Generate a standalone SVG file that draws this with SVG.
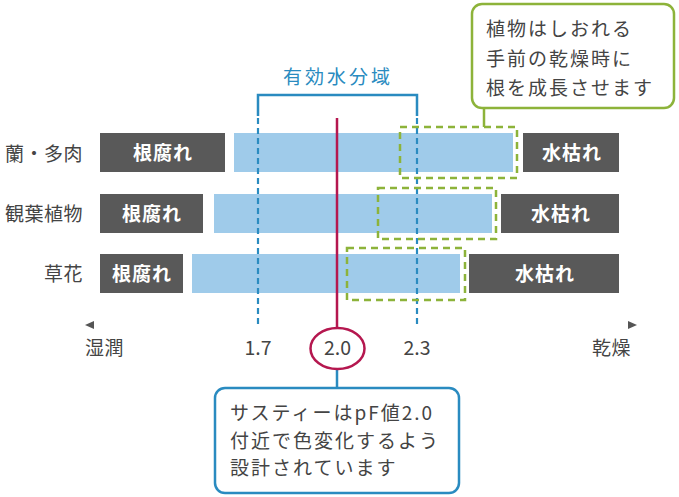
<svg xmlns="http://www.w3.org/2000/svg" width="679" height="497" viewBox="0 0 679 497">
<style>
text{font-family:"Noto Sans CJK JP","Noto Sans",sans-serif;}
.lbl{font-size:19px;fill:#444;letter-spacing:0.5px;}
.dark{fill:#595959;}
.wt{font-size:19px;font-weight:bold;fill:#fff;text-anchor:middle;letter-spacing:1px;}
.bar{fill:#9fcbea;}
.grn{fill:none;stroke:#8db33a;stroke-width:2.5;stroke-dasharray:7 5;}
.bld{stroke:#2a8bc0;stroke-width:2.2;stroke-dasharray:6 4;fill:none;}
.num{font-size:19.5px;fill:#444;text-anchor:middle;}
.ct{font-size:19px;fill:#444;letter-spacing:2px;}
</style>
<rect width="679" height="497" fill="#fff"/>
<g id="row1">
<text class="lbl" x="83" y="161" text-anchor="end">蘭・多肉</text>
<rect class="dark" x="100" y="133" width="125" height="39"/>
<text class="wt" x="163" y="159.5">根腐れ</text>
<rect class="bar" x="234" y="133" width="279" height="39"/>
<rect class="dark" x="523" y="133" width="96" height="39"/>
<text class="wt" x="572" y="159.5">水枯れ</text>
</g>
<g id="row2">
<text class="lbl" x="83" y="221" text-anchor="end">観葉植物</text>
<rect class="dark" x="100" y="194" width="103" height="39"/>
<text class="wt" x="152" y="220.5">根腐れ</text>
<rect class="bar" x="214" y="194" width="278" height="39"/>
<rect class="dark" x="501" y="194" width="118" height="39"/>
<text class="wt" x="561" y="220.5">水枯れ</text>
</g>
<g id="row3">
<text class="lbl" x="83" y="281" text-anchor="end">草花</text>
<rect class="dark" x="100" y="254" width="83" height="39"/>
<text class="wt" x="142" y="280.5">根腐れ</text>
<rect class="bar" x="192" y="254" width="268" height="39"/>
<rect class="dark" x="469" y="254" width="150" height="39"/>
<text class="wt" x="545" y="280.5">水枯れ</text>
</g>
<g id="connectors">
<path d="M258 116 V95 H417 V116" fill="none" stroke="#2a8bc0" stroke-width="2.5"/>
<line class="bld" x1="258" y1="118" x2="258" y2="328"/>
<line class="bld" x1="417" y1="118" x2="417" y2="328"/>
<rect class="grn" x="400" y="127" width="117" height="51"/>
<rect class="grn" x="378" y="188" width="118" height="51"/>
<rect class="grn" x="347" y="248" width="118" height="52"/>
<line x1="484" y1="108" x2="484" y2="127" stroke="#8db33a" stroke-width="2.5"/>
<line x1="337" y1="118" x2="337" y2="328" stroke="#b5174f" stroke-width="2.5"/>
<line x1="337" y1="369" x2="337" y2="388" stroke="#2a8bc0" stroke-width="2.5"/>
</g>
<g id="title">
<text x="283" y="84" font-size="19" fill="#2a8bc0" letter-spacing="3">有効水分域</text>
</g>
<g id="axis">
<polygon points="85,325 94,321 94,329" fill="#555"/>
<polygon points="637,325 628,321 628,329" fill="#555"/>
<text class="lbl" x="85" y="355">湿潤</text>
<text class="lbl" x="592" y="355">乾燥</text>
<text class="num" x="258" y="355">1.7</text>
<text class="num" x="417" y="355">2.3</text>
</g>
<g id="marker20">
<ellipse cx="337.5" cy="348.5" rx="27" ry="20.5" fill="#fff" stroke="#b5174f" stroke-width="2.5"/>
<text class="num" x="337.5" y="355">2.0</text>
</g>
<g id="callout-green">
<rect x="472" y="4" width="202" height="104" rx="10" fill="#fff" stroke="#8db33a" stroke-width="2.5"/>
<text class="ct" x="486" y="36">植物はしおれる</text>
<text class="ct" x="486" y="66">手前の乾燥時に</text>
<text class="ct" x="486" y="95">根を成長させます</text>
</g>
<g id="callout-blue">
<rect x="215" y="388" width="244" height="105" rx="10" fill="#fff" stroke="#2a8bc0" stroke-width="2.5"/>
<text class="ct" x="230" y="420">サスティーはpF値2.0</text>
<text class="ct" x="230" y="448">付近で色変化するよう</text>
<text class="ct" x="230" y="475">設計されています</text>
</g>
</svg>
